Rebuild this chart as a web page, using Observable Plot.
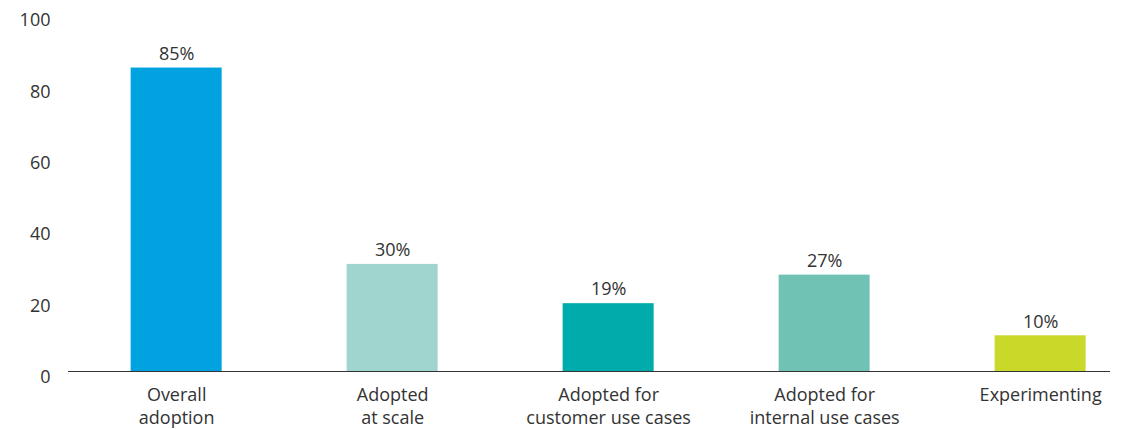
<!DOCTYPE html>
<html>
<head>
<meta charset="utf-8">
<script src="https://cdn.jsdelivr.net/npm/d3@7"></script>
<script src="https://cdn.jsdelivr.net/npm/@observablehq/plot@0.6"></script>
<style>
  html, body { margin: 0; padding: 0; background: #fff; }
  #chart { width: 1125px; height: 429px; }
</style>
</head>
<body>
<div id="chart"></div>
<script>
const categories = ["Overall\nadoption", "Adopted\nat scale", "Adopted for\ncustomer use cases", "Adopted for\ninternal use cases", "Experimenting"];
const values = [85, 30, 19, 27, 10];
const colors = ["#00A3E0", "#A0D4CF", "#00ABAB", "#6FC2B4", "#CAD82A"];
const yTicks = [0, 20, 40, 60, 80, 100];

const data = categories.map((c, i) => ({category: c, value: values[i], color: colors[i]}));

const chart = Plot.plot({
  width: 1125,
  height: 429,
  marginLeft: 68,
  marginRight: 15,
  marginTop: 14,
  marginBottom: 58,
  style: {fontFamily: "'Open Sans', sans-serif", fontSize: "18px", color: "#333", background: "#fff"},
  x: {domain: categories, paddingInner: 0.5787, paddingOuter: 0.2014, align: 0.72, round: false, label: null},
  y: {domain: [0, 100], label: null},
  marks: [
    Plot.barY(data, {x: "category", y: "value", fill: "color"}),
    Plot.ruleY([0], {stroke: "#333", strokeWidth: 1.2}),
    Plot.text(data, {x: "category", y: "value", text: d => d.value + "%", dy: -14, fill: "#333", fontSize: 18}),
    Plot.axisY({ticks: yTicks, tickSize: 0, tickPadding: 18, dy: 6, fill: "#333", fontSize: 18, label: null}),
    Plot.axisX({tickSize: 0, tickPadding: 13, lineHeight: 1.28, fill: "#333", fontSize: 18, label: null})
  ]
});
document.getElementById("chart").appendChild(chart);
</script>
</body>
</html>
